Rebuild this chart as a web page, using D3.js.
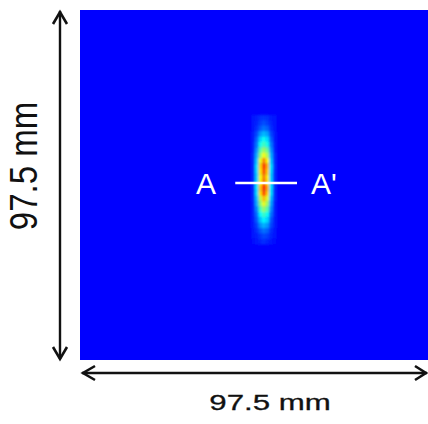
<!DOCTYPE html>
<html>
<head>
<meta charset="utf-8">
<script src="https://cdn.jsdelivr.net/npm/d3@7"></script>
<style>
  body { margin: 0; background: #fff; }
  svg { display: block; }
</style>
</head>
<body>
<svg width="428" height="424"></svg>
<script>
// beam spot on a 97.5 x 97.5 mm field, intensity grid around the spot
var fieldSize = 97.5;
var colsMm = [48.5, 49.5, 50.5, 51.5, 52.5, 53.5, 54.5];
var rowsMm = [30, 31.5, 33, 34.5, 36, 37.5, 39, 40.5, 42, 43.5, 45, 46.5,
              48, 49.5, 51, 52.5, 54, 55.5, 57, 58.5, 60, 61.5, 63, 64.5];
var intensity = [
  [0.02, 0.03, 0.05, 0.06, 0.05, 0.03, 0.02],
  [0.02, 0.04, 0.07, 0.09, 0.07, 0.04, 0.02],
  [0.02, 0.05, 0.10, 0.13, 0.11, 0.05, 0.02],
  [0.03, 0.08, 0.17, 0.21, 0.18, 0.08, 0.03],
  [0.03, 0.11, 0.24, 0.30, 0.25, 0.11, 0.03],
  [0.04, 0.13, 0.30, 0.36, 0.31, 0.14, 0.04],
  [0.04, 0.16, 0.38, 0.46, 0.40, 0.17, 0.04],
  [0.05, 0.19, 0.45, 0.56, 0.48, 0.20, 0.05],
  [0.05, 0.22, 0.55, 0.70, 0.58, 0.23, 0.05],
  [0.05, 0.25, 0.62, 0.80, 0.66, 0.26, 0.06],
  [0.05, 0.24, 0.60, 0.77, 0.63, 0.25, 0.05],
  [0.05, 0.23, 0.56, 0.71, 0.59, 0.24, 0.05],
  [0.05, 0.24, 0.58, 0.73, 0.60, 0.25, 0.05],
  [0.05, 0.26, 0.64, 0.82, 0.67, 0.27, 0.06],
  [0.05, 0.25, 0.61, 0.78, 0.63, 0.26, 0.05],
  [0.05, 0.21, 0.50, 0.64, 0.53, 0.22, 0.05],
  [0.04, 0.19, 0.44, 0.55, 0.46, 0.19, 0.04],
  [0.04, 0.15, 0.36, 0.45, 0.38, 0.16, 0.04],
  [0.04, 0.12, 0.28, 0.35, 0.30, 0.13, 0.04],
  [0.03, 0.10, 0.22, 0.28, 0.24, 0.10, 0.03],
  [0.03, 0.07, 0.16, 0.20, 0.17, 0.08, 0.03],
  [0.02, 0.05, 0.10, 0.13, 0.11, 0.05, 0.02],
  [0.02, 0.03, 0.06, 0.08, 0.07, 0.04, 0.02],
  [0.01, 0.02, 0.04, 0.05, 0.04, 0.02, 0.01]
];
var profileY = 48.2;            // A - A' line position (mm)
var profileX = [43.5, 60.8];    // A - A' line extent (mm)
var sizeLabel = '97.5 mm';

var svg = d3.select('svg');

var x = d3.scaleLinear().domain([0, fieldSize]).range([80, 428]);
var y = d3.scaleLinear().domain([0, fieldSize]).range([10, 360]);

// jet colour map, zero level is the plain blue of the background
var color = d3.scaleLinear()
    .domain([0, 0.2857, 0.5714, 0.857, 1])
    .range(['#0000ff', '#00ffff', '#ffff00', '#ff0000', '#800000'])
    .clamp(true);

svg.append('defs').append('filter')
    .attr('id', 'soft')
    .attr('x', '-50%').attr('y', '-20%')
    .attr('width', '200%').attr('height', '140%')
    .append('feGaussianBlur')
    .attr('stdDeviation', 0.8);

svg.append('rect')
    .attr('x', x(0))
    .attr('y', y(0))
    .attr('width', x(fieldSize) - x(0))
    .attr('height', y(fieldSize) - y(0))
    .attr('fill', '#0000ff');

var cells = [];
rowsMm.forEach(function(r, i) {
  colsMm.forEach(function(c, j) {
    cells.push({ x: c, y: r, v: intensity[i][j] });
  });
});

var dx = 1, dy = 1.5;
svg.append('g')
    .attr('filter', 'url(#soft)')
    .selectAll('rect')
    .data(cells)
    .enter()
    .append('rect')
    .attr('x', function(d) { return x(d.x - dx / 2); })
    .attr('y', function(d) { return y(d.y - dy / 2); })
    .attr('width', x(dx) - x(0) + 0.3)
    .attr('height', y(dy) - y(0) + 0.3)
    .attr('fill', function(d) { return color(d.v); });

// A - A' cut line
svg.append('line')
    .attr('x1', x(profileX[0]))
    .attr('x2', x(profileX[1]))
    .attr('y1', y(profileY))
    .attr('y2', y(profileY))
    .attr('stroke', '#fff')
    .attr('stroke-width', 2.5);

svg.append('text')
    .attr('x', 206)
    .attr('y', 194)
    .attr('text-anchor', 'middle')
    .attr('fill', '#fff')
    .style('font', '30px "Liberation Sans", Arial, sans-serif')
    .text('A');

svg.append('text')
    .attr('x', 311)
    .attr('y', 194)
    .attr('fill', '#fff')
    .style('font', '30px "Liberation Sans", Arial, sans-serif')
    .text("A'");

// dimension arrows
var ink = '#111';
function arrow(x1, y1, x2, y2) {
  svg.append('line')
      .attr('x1', x1).attr('y1', y1)
      .attr('x2', x2).attr('y2', y2)
      .attr('stroke', ink)
      .attr('stroke-width', 2.4);
}
function head(pts) {
  svg.append('path')
      .attr('d', d3.line()(pts))
      .attr('fill', 'none')
      .attr('stroke', ink)
      .attr('stroke-width', 2.6)
      .attr('stroke-linejoin', 'miter');
}

arrow(60, 11, 60, 359);
head([[53, 24], [60, 12], [67, 24]]);
head([[53, 347], [60, 359], [67, 347]]);

arrow(82, 373, 427, 373);
head([[95, 366], [83, 373], [95, 380]]);
head([[415, 366], [426, 373], [415, 380]]);

svg.append('text')
    .attr('transform', 'translate(270,410) scale(1.42,1.02)')
    .attr('text-anchor', 'middle')
    .attr('fill', '#111')
    .style('font', '22px "Liberation Sans", Arial, sans-serif')
    .style('stroke', '#111')
    .style('stroke-width', 0.3)
    .text(sizeLabel);

svg.append('text')
    .attr('transform', 'translate(37,166) rotate(-90) scale(1,1.15)')
    .attr('text-anchor', 'middle')
    .attr('fill', '#111')
    .style('font', '33px "Liberation Sans", Arial, sans-serif')
    .text(sizeLabel);
</script>
</body>
</html>
